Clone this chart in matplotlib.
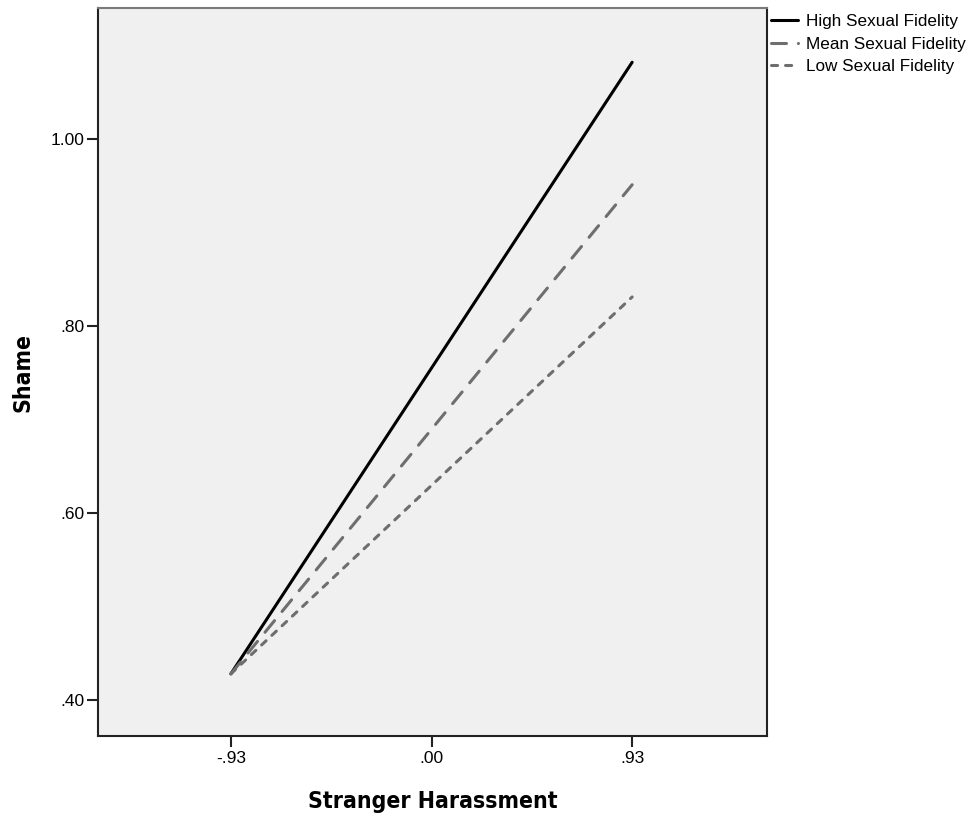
import matplotlib
matplotlib.use('Agg')
import matplotlib.pyplot as plt

x = [-0.93, 0.93]
high = [0.428, 1.082]
mean = [0.428, 0.951]
low = [0.428, 0.831]
xticks = [-0.93, 0.0, 0.93]
xtick_labels = ['-.93', '.00', '.93']
yticks = [0.40, 0.60, 0.80, 1.00]
ytick_labels = ['.40', '.60', '.80', '1.00']

plt.rcParams['font.family'] = ['Liberation Sans', 'DejaVu Sans']

fig = plt.figure(figsize=(9.76, 8.18), dpi=100)
ax = fig.add_axes([98 / 976, 1 - 736 / 818, (767 - 98) / 976, (736 - 8) / 818])
ax.set_facecolor('#f0f0f0')

ax.plot(x, high, color='black', lw=2.2, solid_capstyle='round', label='High Sexual Fidelity')
ax.plot(x, mean, color='#6e6e6e', lw=2.2, dashes=(4.9, 3.9), dash_capstyle='round', label='Mean Sexual Fidelity')
ax.plot(x, low, color='#6e6e6e', lw=2.2, dashes=(2.0, 2.6), dash_capstyle='round', label='Low Sexual Fidelity')

ax.set_xlim(-1.546, 1.555)
ax.set_ylim(0.3615, 1.140)
ax.set_xticks(xticks)
ax.set_xticklabels(xtick_labels)
ax.set_yticks(yticks)
ax.set_yticklabels(ytick_labels)
ax.tick_params(axis='both', length=8, width=1.5, color='#222222', labelsize=12.5)
ax.tick_params(axis='x', pad=3)
ax.tick_params(axis='y', pad=1.5)

for side in ['left', 'right', 'bottom']:
    ax.spines[side].set_linewidth(1.5)
    ax.spines[side].set_color('#222222')
ax.spines['top'].set_linewidth(1.5)
ax.spines['top'].set_color('#7a7a7a')

lab = dict(family='DejaVu Sans', fontstretch='condensed', fontweight='bold', fontsize=16.5)
ax.set_xlabel('Stranger Harassment', labelpad=17, **lab)
ax.set_ylabel('Shame', labelpad=12, **lab)

fig.legend(loc='upper left', bbox_to_anchor=(771 / 976, 1 - 14 / 818), frameon=False,
           fontsize=12.3, handlelength=1.6, handletextpad=0.45, labelspacing=0.45,
           borderpad=0, borderaxespad=0)

fig.savefig('out.png', dpi=100)
